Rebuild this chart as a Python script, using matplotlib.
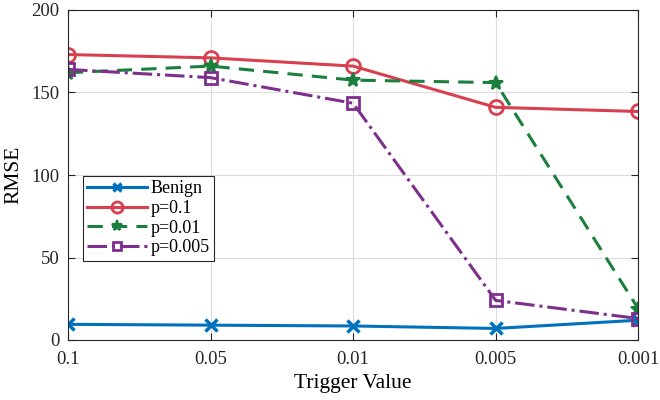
import matplotlib.pyplot as plt

plt.rcParams['font.family'] = ['Liberation Serif', 'DejaVu Serif']

trigger = ["0.1", "0.05", "0.01", "0.005", "0.001"]
benign = [9.5, 9, 8.5, 7, 12]
p_01 = [173, 171, 166, 141, 138.5]
p_001 = [162, 166, 157.5, 156, 19]
p_0005 = [164, 159, 143.5, 24, 13]

fig = plt.figure(figsize=(6.6, 4), dpi=100)
ax = fig.add_axes([0.103, 0.15, 0.864, 0.825])
x = list(range(len(trigger)))

ax.plot(x, benign, '-x', color='#0072BD', lw=2.2, ms=8, mew=2.5, label='Benign')
ax.plot(x, p_01, '-o', color='#D9404F', lw=2.2, ms=10, mew=2, mfc='none', label='p=0.1')
ax.plot(x, p_001, '--*', color='#1A7F3C', lw=2.2, ms=10, mew=1.5, label='p=0.01', dashes=(5, 3))
ax.plot(x, p_0005, '-.s', color='#7E2F8E', lw=2.2, ms=8, mew=2, mfc='none', label='p=0.005')

ax.set_xlim(0, 4)
ax.set_ylim(0, 200)
ax.set_xticks(x)
ax.set_xticklabels(trigger)
ax.set_yticks([0, 50, 100, 150, 200])
ax.tick_params(direction='in', top=True, right=True, labelsize=13.5, length=5, colors='#262626')
ax.tick_params(axis='x', pad=8)
ax.tick_params(axis='y', pad=6)
ax.grid(True, color='#dddddd', lw=0.8)
for s in ax.spines.values():
    s.set_color('#262626')
ax.set_xlabel('Trigger Value', fontsize=15.5, labelpad=4)
ax.set_ylabel('RMSE', fontsize=15.5, labelpad=6)

leg = ax.legend(loc='lower left', bbox_to_anchor=(0.026, 0.24), fontsize=13,
                fancybox=False, framealpha=1, edgecolor='#262626', markerscale=0.8,
                borderpad=0.25, labelspacing=0.15, handlelength=3.3, handletextpad=0.2,
                borderaxespad=0)
leg.get_frame().set_linewidth(0.8)

fig.savefig('out.png', dpi=100)
